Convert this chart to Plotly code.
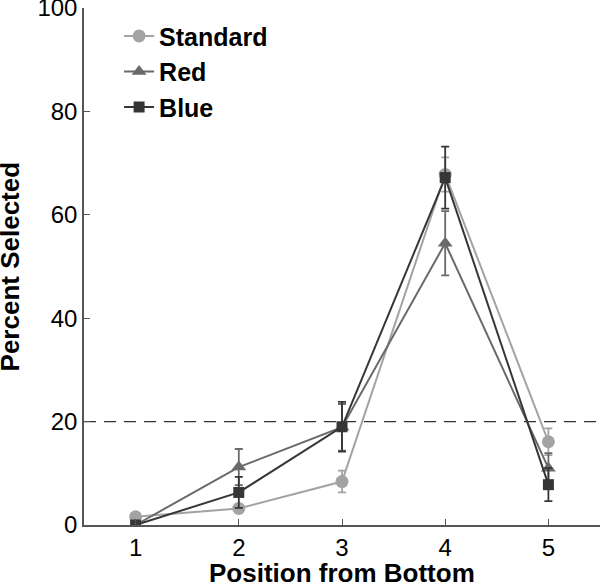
import plotly.graph_objects as go

positions = [1, 2, 3, 4, 5]

standard = [1.6, 3.2, 8.4, 67.8, 16.1]
standard_err = [0.6, 0.8, 2.1, 3.3, 2.6]

red = [0.0, 11.2, 18.9, 54.5, 11.0]
red_err = [0.0, 3.5, 4.5, 6.2, 2.9]

blue = [0.0, 6.3, 19.0, 67.2, 7.8]
blue_err = [0.0, 3.0, 4.8, 6.0, 3.2]

chance = 20

series = [
    ("Standard", standard, standard_err, "#a3a3a3", "circle", 13),
    ("Red", red, red_err, "#6a6a6a", "triangle-up", 13),
    ("Blue", blue, blue_err, "#363636", "square", 11),
]

FONT = "Liberation Sans, Arial, Helvetica, sans-serif"

fig = go.Figure()

for name, vals, errs, color, symbol, size in series:
    fig.add_trace(go.Scatter(
        x=positions, y=vals, name=name, mode="lines+markers",
        line=dict(color=color, width=2),
        marker=dict(symbol=symbol, size=size, color=color),
        error_y=dict(type="data", array=errs, visible=True,
                     color=color, thickness=1.8, width=4),
    ))

# chance level
fig.add_shape(type="line", xref="paper", x0=0, x1=1, yref="y", y0=chance, y1=chance,
              line=dict(color="#333333", width=1.2, dash="12px,8px"), layer="below")

tick_font = dict(family=FONT, size=24, color="black")
title_font = dict(family=FONT, size=26, color="black", weight="bold")

# axis titles as annotations so they can sit right at the page edges
fig.add_annotation(text="Position from Bottom", xref="paper", yref="paper",
                   x=0.5, y=-0.093, xanchor="center", yanchor="middle",
                   showarrow=False, font=title_font)
fig.add_annotation(text="Percent Selected", xref="paper", yref="paper",
                   x=-0.1435, y=0.5, xanchor="center", yanchor="middle", textangle=-90,
                   showarrow=False, font=title_font)

fig.update_layout(
    width=600, height=584,
    margin=dict(l=84, r=0, t=8, b=59),
    plot_bgcolor="white", paper_bgcolor="white",
    font=tick_font,
    showlegend=True,
    legend=dict(x=0.068, y=0.99, xanchor="left", yanchor="top",
                bgcolor="rgba(0,0,0,0)", tracegroupgap=0,
                font=dict(family=FONT, size=25, color="black", weight="bold")),
    xaxis=dict(range=[0.5, 5.5], tickvals=positions, ticks="inside", ticklen=6,
               tickcolor="#555555", showline=True, linecolor="#555555", linewidth=1.5,
               showgrid=False, zeroline=False, tickfont=tick_font, automargin=False,
               ticklabeloverflow="allow"),
    yaxis=dict(range=[0, 100], tickvals=[0, 20, 40, 60, 80, 100], ticks="inside", ticklen=6,
               tickcolor="#555555", showline=True, linecolor="#555555", linewidth=1.5,
               showgrid=False, zeroline=False, tickfont=tick_font, automargin=False,
               ticklabeloverflow="allow"),
)

# drop the page's default body margin so the figure sits at the window's corner
fig.write_html("out.html", config={"displayModeBar": False},
               post_script="document.body.style.margin='0';")
